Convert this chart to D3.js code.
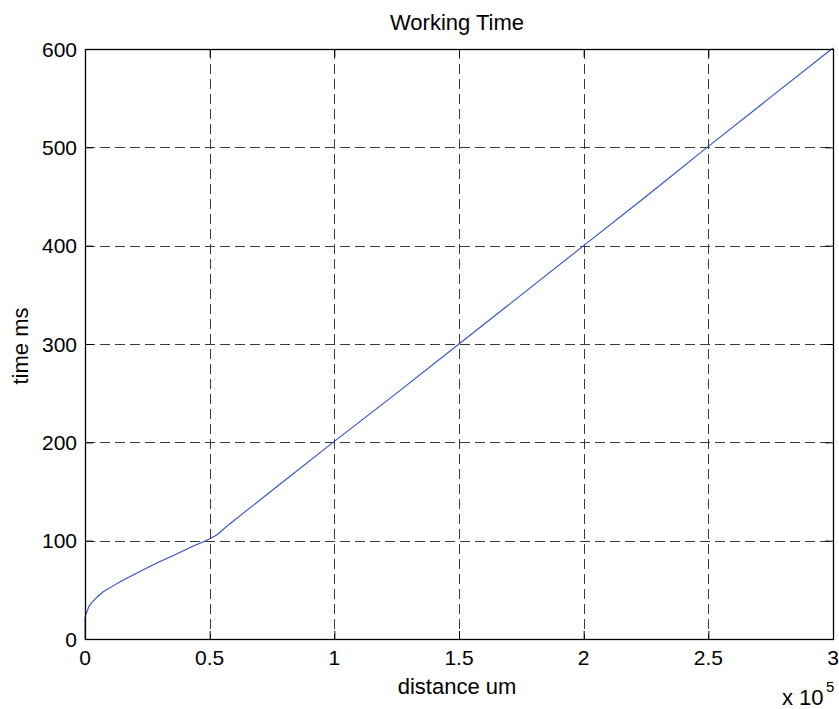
<!DOCTYPE html>
<html>
<head>
<meta charset="utf-8">
<script src="https://d3js.org/d3.v7.min.js"></script>
<style>
body{margin:0;background:#fff;}
text{font-family:"Liberation Sans",Arial,sans-serif;fill:#000;}
</style>
</head>
<body>
<script>
const svg_width = 839,svg_height = 709;
// distance in units of 1e5 um, time in ms
var distance = [0,0,0.003,0.01,0.015,0.027,0.05,0.073,0.113,0.15,0.193,0.23,0.29,0.35,0.38,0.43,0.48,0.5,0.53,0.58,0.65,0.755,1.0,1.25,1.5,1.75,2.0,2.25,2.5,2.75,3.0];
var time = [0,21,25,29,33,37,43,48,54,59.5,65,70,77.5,84.5,88,94,99.5,102,106,117,131,152,201,250,300,350,400,450,501,551,601];
var xTicks = [0,0.5,1,1.5,2,2.5,3];
var yTicks = [0,100,200,300,400,500,600];
var titleText = "Working Time", xLabel = "distance um", yLabel = "time ms";

var left = 85, top_ = 49, plot_w = 748, plot_h = 590;

var svgContainer = d3.select("body")
.append("svg")
.attr("width",svg_width)
.attr("height",svg_height);

var xScale = d3.scaleLinear().domain([0,3]).range([left,left+plot_w]);
var yScale = d3.scaleLinear().domain([0,600]).range([top_+plot_h,top_]);

//grid
var grid = svgContainer.append("g")
.attr("stroke","#3a3a3a")
.attr("stroke-width",1)
.attr("stroke-dasharray","10,5");
grid.selectAll("line.gx")
.data(xTicks.slice(1,-1))
.enter()
.append("line")
.attr("x1",function(d){return Math.round(xScale(d))+0.5})
.attr("x2",function(d){return Math.round(xScale(d))+0.5})
.attr("y1",top_)
.attr("y2",top_+plot_h);
grid.selectAll("line.gy")
.data(yTicks.slice(1))
.enter()
.append("line")
.attr("y1",function(d){return Math.round(yScale(d))+0.5})
.attr("y2",function(d){return Math.round(yScale(d))+0.5})
.attr("x1",left)
.attr("x2",left+plot_w);

//curve
var pts = distance.map(function(d,i){return [d,time[i]]});
var lineFn = d3.line()
.x(function(d){return xScale(d[0])})
.y(function(d){return yScale(d[1])});
svgContainer.append("path")
.attr("d",lineFn(pts))
.attr("fill","none")
.attr("stroke","#2d4fc2")
.attr("stroke-width",1.1);

//axes, ticks pointing inward, mirrored on box
var tickLen = 8;
var axBottom = d3.axisTop(xScale).tickValues(xTicks).tickSize(tickLen).tickFormat("");
var axTop = d3.axisBottom(xScale).tickValues(xTicks).tickSize(tickLen).tickFormat("");
var axLeft = d3.axisRight(yScale).tickValues(yTicks).tickSize(tickLen).tickFormat("");
var axRight = d3.axisLeft(yScale).tickValues(yTicks).tickSize(tickLen).tickFormat("");
svgContainer.append("g").attr("transform","translate(0,"+(top_+plot_h)+")").call(axBottom);
svgContainer.append("g").attr("transform","translate(0,"+top_+")").call(axTop);
svgContainer.append("g").attr("transform","translate("+left+",0)").call(axLeft);
svgContainer.append("g").attr("transform","translate("+(left+plot_w)+",0)").call(axRight);
svgContainer.selectAll(".domain").remove();
svgContainer.selectAll(".tick line").attr("stroke","#000");

svgContainer.append("rect")
.attr("x",left+0.5)
.attr("y",top_+0.5)
.attr("width",plot_w)
.attr("height",plot_h)
.attr("fill","none")
.attr("stroke","#000")
.attr("stroke-width",1.3);

//tick labels
svgContainer.selectAll("text.xt")
.data(xTicks)
.enter()
.append("text")
.attr("x",function(d){return xScale(d)})
.attr("y",665)
.attr("text-anchor","middle")
.style("font-size","21px")
.text(function(d){return d});
svgContainer.selectAll("text.yt")
.data(yTicks)
.enter()
.append("text")
.attr("x",77)
.attr("y",function(d){return yScale(d)})
.attr("dy","0.36em")
.attr("text-anchor","end")
.style("font-size","21px")
.text(function(d){return d});

//labels
svgContainer.append("text")
.attr("x",457)
.attr("y",30)
.attr("text-anchor","middle")
.style("font-size","22px")
.text(titleText);
svgContainer.append("text")
.attr("x",457)
.attr("y",694)
.attr("text-anchor","middle")
.style("font-size","22px")
.text(xLabel);
svgContainer.append("text")
.attr("transform","translate(28,346) rotate(-90)")
.attr("text-anchor","middle")
.style("font-size","22px")
.text(yLabel);
svgContainer.append("text")
.attr("x",782)
.attr("y",705)
.style("font-size","22px")
.text("x 10");
svgContainer.append("text")
.attr("x",826)
.attr("y",692)
.style("font-size","15px")
.text("5");
</script>
</body>
</html>
